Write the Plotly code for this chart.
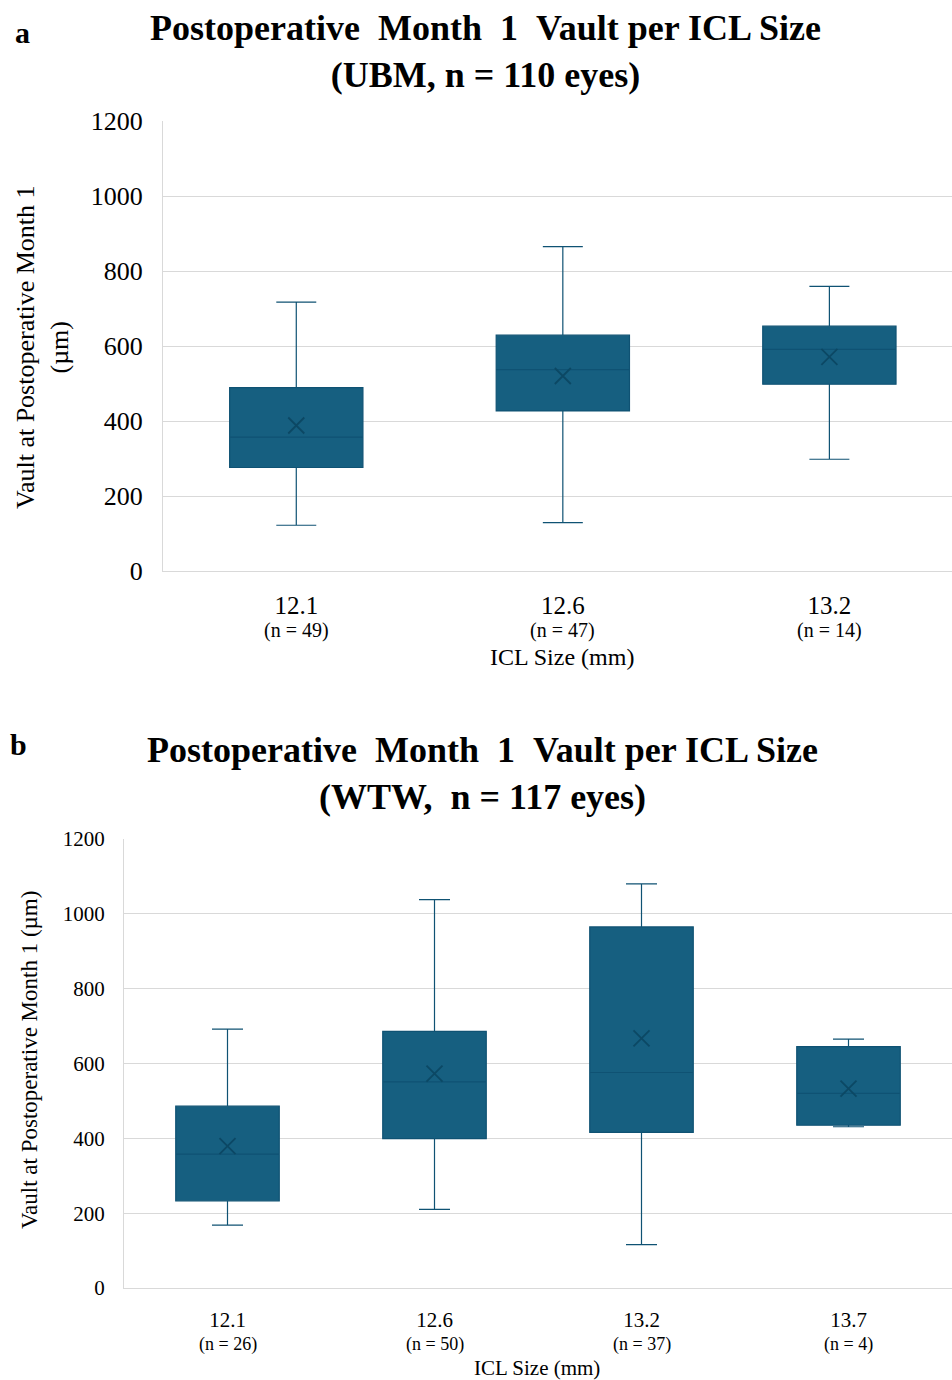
import plotly.graph_objects as go

# ---------------- data ----------------
sizes_a = ["12.1", "12.6", "13.2"]
n_a = [49, 47, 14]
lower_a = [122, 129, 298]
q1_a = [276, 427, 498]
median_a = [357, 537, 591]
q3_a = [489, 629, 653]
upper_a = [717, 865, 759]
mean_a = [388, 520, 571]

sizes_b = ["12.1", "12.6", "13.2", "13.7"]
n_b = [26, 50, 37, 4]
lower_b = [168, 210, 116, 431]
q1_b = [233, 399, 416, 435]
median_b = [358, 551, 576, 520]
q3_b = [486, 686, 965, 645]
upper_b = [692, 1038, 1080, 665]
mean_b = [379, 573, 667, 533]

y_ticks = [0, 200, 400, 600, 800, 1000, 1200]

# ---------------- style ----------------
W, H = 952, 1380
FONT = "Liberation Serif, Times New Roman, serif"
FILL = "#165F80"
LINE = "#0F5273"
MEAN = "#0C4864"
GRID = "#D9D9D9"


def py(p):
    return 1 - p / H


fig = go.Figure()

for sizes, lo, q1, md, q3, up, mn, xa, ya in [
    (sizes_a, lower_a, q1_a, median_a, q3_a, upper_a, mean_a, "x", "y"),
    (sizes_b, lower_b, q1_b, median_b, q3_b, upper_b, mean_b, "x2", "y2"),
]:
    fig.add_trace(go.Box(
        x=sizes, q1=q1, median=md, q3=q3, lowerfence=lo, upperfence=up,
        boxpoints=False, fillcolor=FILL, line=dict(color=LINE, width=1.2),
        whiskerwidth=0.3, xaxis=xa, yaxis=ya, showlegend=False,
    ))
    fig.add_trace(go.Scatter(
        x=sizes, y=mn, mode="markers", xaxis=xa, yaxis=ya, showlegend=False,
        marker=dict(symbol="x-thin", size=16, line=dict(color=MEAN, width=1.8)),
    ))

common_y = dict(
    range=[0, 1200], tickvals=y_ticks, showgrid=True, gridcolor=GRID, gridwidth=1,
    zeroline=False, showline=True, linecolor=GRID, linewidth=1, ticks="",
    automargin=False,
)
common_x = dict(
    type="category", showgrid=False, zeroline=False, showline=True,
    linecolor=GRID, linewidth=1, ticks="outside", tickcolor="rgba(0,0,0,0)",
    automargin=False,
)

fig.update_layout(
    width=W, height=H, margin=dict(l=0, r=0, t=0, b=0, autoexpand=False),
    paper_bgcolor="white", plot_bgcolor="white",
    font=dict(family=FONT, color="#000000"),
    boxgap=0.5, boxgroupgap=0,
    xaxis=dict(common_x, domain=[163 / W, 1], range=[-0.5, 2.46], anchor="y",
               tickfont=dict(size=25, family=FONT), ticklen=12),
    yaxis=dict(common_y, domain=[py(571), py(121)], anchor="x",
               tickfont=dict(size=26, family=FONT), ticklabelstandoff=14),
    xaxis2=dict(common_x, domain=[124 / W, 1], range=[-0.5, 3.5], anchor="y2",
                tickfont=dict(size=21, family=FONT), ticklen=13),
    yaxis2=dict(common_y, domain=[py(1288), py(839)], anchor="x2",
                tickfont=dict(size=21, family=FONT), ticklabelstandoff=14),
)


def label(text, px, pyy, size, bold=False, angle=0, xref="paper", xval=None):
    return dict(
        text=f"<b>{text}</b>" if bold else text,
        x=(px / W) if xval is None else xval, xref=xref,
        y=py(pyy), yref="paper", xanchor="center", yanchor="middle",
        showarrow=False, textangle=angle, font=dict(size=size, family=FONT),
    )


SP = "&nbsp;"
ann = [
    label("a", 22, 33, 30, bold=True),
    label("b", 18, 745, 30, bold=True),
    label(f"Postoperative {SP}Month {SP}1 {SP}Vault per ICL Size<br>(UBM, n = 110 eyes)",
          486, 51, 36, bold=True),
    label(f"Postoperative {SP}Month {SP}1 {SP}Vault per ICL Size<br>(WTW, {SP}n = 117 eyes)",
          482, 773, 36, bold=True),
    label("Vault at Postoperative Month 1<br>(µm)", 43, 347, 26, angle=-90),
    label("Vault at Postoperative Month 1 (µm)", 29, 1060, 23, angle=-90),
    label("ICL Size (mm)", 562, 657, 24),
    label("ICL Size (mm)", 537, 1368, 21),
]
for i, n in enumerate(n_a):
    ann.append(label(f"(n = {n})", 0, 630, 20, xref="x", xval=i))
for i, n in enumerate(n_b):
    ann.append(label(f"(n = {n})", 0, 1344, 18, xref="x2", xval=i))

fig.update_layout(annotations=ann)
fig.write_html("out.html")
